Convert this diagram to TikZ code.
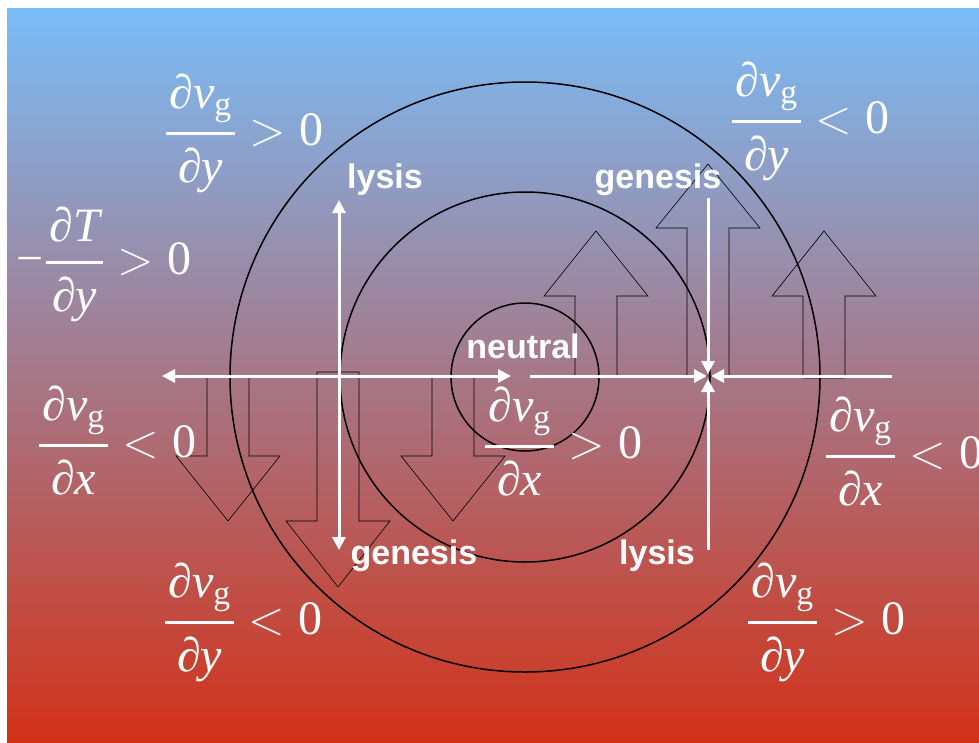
\RequirePackage{fix-cm}
\documentclass[tikz,border=0pt]{standalone}
\usepackage{amsmath}
\usepackage{fontspec}
\setmainfont{Liberation Serif}
\newfontfamily\labelfont{Liberation Sans}
\usetikzlibrary{arrows.meta}

\newcommand{\dvg}{\textit{∂v}_{\text{g}}}
\newcommand{\dd}[1]{\textit{∂#1}}
\newcommand{\ratio}[3]{\genfrac{}{}{3pt}{0}{\hspace{3pt}#1\hspace{3pt}}{\rule{0pt}{0.82em}#2}#3\text{0}}

\tikzset{
  ring/.style={draw=black, line width=1.5pt},
  blockarrow/.style={draw=black, line width=0.6pt},
  wire/.style={white, line width=3pt, -{Triangle[length=13pt,width=13pt]}},
  wires/.style={white, line width=3pt, {Triangle[length=13pt,width=13pt]}-{Triangle[length=13pt,width=13pt]}},
  tag/.style={text=white, font=\labelfont\bfseries\fontsize{34}{36}\selectfont, inner sep=0pt},
  formula/.style={text=white, font=\fontsize{48}{52}\selectfont, inner sep=0pt, anchor=base west},
}

\begin{document}
\begin{tikzpicture}[x=1pt, y=-1pt]
\useasboundingbox (0,0) rectangle (979,742);
\fill[white] (0,0) rectangle (979,742);
\shade[top color={rgb,255:red,122;green,189;blue,248},
       middle color={rgb,255:red,150;green,120;blue,138},
       bottom color={rgb,255:red,210;green,50;blue,24}] (7,8) rectangle (979,742);

% block arrows: centre / head base / tip / tail
\foreach \c/\h/\t/\b in {596/296/231/376, 708/228/164/376, 824/296/231/378,
                         228/456/521/376, 338/521/587/372, 453/456/521/376} {
  \draw[blockarrow] (\c-21,\b) -- (\c-21,\h) -- (\c-52,\h) -- (\c,\t)
    -- (\c+52,\h) -- (\c+21,\h) -- (\c+21,\b) -- cycle;
}

% circles
\coordinate (o) at (525,377);
\foreach \r in {74,185,295}
  \draw[ring] (o) circle[radius=\r pt];

% white axes
\coordinate (west) at (162,376);
\coordinate (midW) at (511,376);
\coordinate (midE) at (530,376);
\coordinate (crossW) at (707,376);
\coordinate (crossE) at (711,376);
\coordinate (east) at (892,376);
\coordinate (leftTop) at (339,200);
\coordinate (leftBot) at (339,550);
\coordinate (rightTop) at (708,198);
\coordinate (crossN) at (708,374);
\coordinate (crossS) at (708,379);
\coordinate (rightBot) at (708,550);
\draw[wires] (west) -- (midW);
\draw[wire] (midE) -- (crossW);
\draw[wire] (east) -- (crossE);
\draw[wires] (leftBot) -- (leftTop);
\draw[wire] (rightTop) -- (crossN);
\draw[wire] (rightBot) -- (crossS);

% labels
\node[tag] (lysisN) at (385,180) {lysis};
\node[tag] (genesisN) at (658,180) {genesis};
\node[tag] (neutral) at (523,346) {neutral};
\node[tag] (genesisS) at (414,556) {genesis};
\node[tag] (lysisS) at (657,556) {lysis};

% formulas (base point = bar left, bar height + axis)
\node[formula] (dyNW) at (165,145) {$\ratio{\dvg}{\dd{y}}{>}$};
\node[formula] (dT) at (16,274) {$\text{−}\hspace{2pt}\ratio{\dd{T}}{\dd{y}}{>}$};
\node[formula] (dyNE) at (731,133) {$\ratio{\dvg}{\dd{y}}{<}$};
\node[formula] (dxW) at (38,457) {$\ratio{\dvg}{\dd{x}}{<}$};
\node[formula] (dySW) at (164,634) {$\ratio{\dvg}{\dd{y}}{<}$};
\node[formula] (dxE) at (825,468) {$\ratio{\dvg}{\dd{x}}{<}$};
\node[formula] (dySE) at (747,634) {$\ratio{\dvg}{\dd{y}}{>}$};
\node[formula] (dxC) at (484,458) {$\ratio{\dvg}{\dd{x}}{>}$};
\end{tikzpicture}
\end{document}
